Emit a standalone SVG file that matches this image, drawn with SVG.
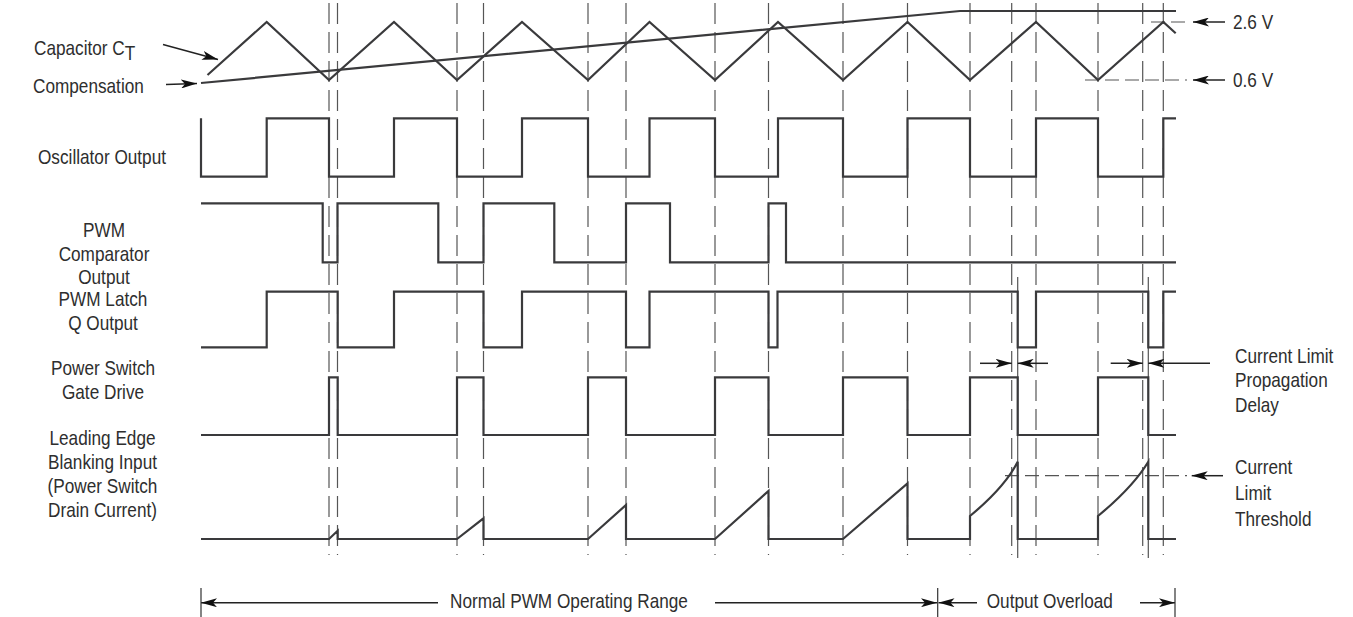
<svg xmlns="http://www.w3.org/2000/svg" width="1353" height="617" viewBox="0 0 1353 617">
<style>
.wave{fill:none;stroke:#3a3a3c;stroke-width:2.2;stroke-linejoin:miter;stroke-linecap:butt}
.dash{fill:none;stroke:#555;stroke-width:1.2;stroke-dasharray:21 8}
.hdash{fill:none;stroke:#555;stroke-width:1.2;stroke-dasharray:14 6}
.thin{fill:none;stroke:#555;stroke-width:1.2}
.arr{fill:none;stroke:#222;stroke-width:1.5;marker-end:url(#ah)}
.tick{fill:none;stroke:#333;stroke-width:1.2}
text{font-family:"Liberation Sans",Arial,sans-serif;font-size:20px;fill:#2e2e2e}
.c{text-anchor:middle}
</style>
<defs>
<marker id="ah" markerUnits="userSpaceOnUse" markerWidth="16" markerHeight="9" refX="16" refY="4.5" orient="auto">
<path d="M0,0 L16,4.5 L0,9 L4,4.5 z" fill="#111"/>
</marker>
</defs>
<rect width="1353" height="617" fill="#fff"/>

<g id="connectors">
<g id="gridlines">
<path class="dash" d="M329,3V555 M337.5,3V555 M457,3V555 M483.5,3V555 M588,3V555 M626,3V555 M715,3V555 M768.5,3V555 M843,3V555 M907.5,3V555 M970,3V555 M1011.7,3V555 M1036,3V555 M1098,3V555 M1142.7,3V555 M1163.3,3V555"/>
<path class="thin" d="M1017.7,277V558 M1148.3,277V558"/>
<path class="hdash" d="M1151,22H1187 M1085,80H1187 M1005,475.7H1187"/>
</g>
<g id="arrows">
<line class="arr" x1="163" y1="44.5" x2="218" y2="59.5"/>
<line class="arr" x1="166" y1="84.5" x2="197" y2="83.5"/>
<line class="arr" x1="1225" y1="22" x2="1193" y2="22"/>
<line class="arr" x1="1225" y1="80" x2="1193" y2="80"/>
<line class="arr" x1="1223" y1="475.7" x2="1191.7" y2="475.7"/>
<line class="arr" x1="980" y1="363.3" x2="1011.7" y2="363.3"/>
<line class="arr" x1="1048" y1="363.3" x2="1017.7" y2="363.3"/>
<line class="arr" x1="1110.7" y1="363.3" x2="1142.7" y2="363.3"/>
<line class="arr" x1="1210" y1="363.3" x2="1148.3" y2="363.3"/>
<line class="arr" x1="438" y1="602.7" x2="201" y2="602.7"/>
<line class="arr" x1="715" y1="602.7" x2="937" y2="602.7"/>
<line class="arr" x1="977" y1="602.7" x2="938.5" y2="602.7"/>
<line class="arr" x1="1140" y1="602.7" x2="1175" y2="602.7"/>
<path class="tick" d="M201,588V617 M937.7,588V617 M1175,588V617"/>
</g>
</g>

<g id="capacitor">
<polyline class="wave" points="207.5,75 266.7,22 329,80 394,22 457,80 522,22 588,80 649.5,22 715,80 778,22 843,80 907.5,22 970,80 1036,22 1098,80 1163.3,22 1175.7,33.3"/>
<text transform="translate(34,55) scale(0.86,1)">Capacitor C<tspan dy="5">T</tspan></text>
</g>
<g id="compensation">
<polyline class="wave" points="201,83 960,11 1176,11"/>
<text transform="translate(33,93) scale(0.86,1)">Compensation</text>
</g>
<g id="levels">
<text transform="translate(1233,29) scale(0.86,1)">2.6 V</text>
<text transform="translate(1233,87) scale(0.86,1)">0.6 V</text>
</g>

<g id="oscillator">
<path class="wave" d="M201,118.3V176.7H266.7V118.3H329V176.7H394V118.3H457V176.7H522V118.3H588V176.7H649.5V118.3H715V176.7H778V118.3H843V176.7H907.5V118.3H970V176.7H1036V118.3H1098V176.7H1163.3V118.3H1176"/>
<text class="c" transform="translate(102,164) scale(0.86,1)">Oscillator Output</text>
</g>

<g id="comparator">
<path class="wave" d="M201,203.3H322.7V262.3H337.5V203.3H438.3V262.3H483.5V203.3H554.3V262.3H626V203.3H670V262.3H768.5V203.3H786V262.3H1176"/>
<text class="c" transform="translate(104,237) scale(0.86,1)">PWM</text>
<text class="c" transform="translate(104,260.5) scale(0.86,1)">Comparator</text>
<text class="c" transform="translate(104,284) scale(0.86,1)">Output</text>
</g>

<g id="latch">
<path class="wave" d="M201,347.3H266.7V291.7H337.7V347.3H394V291.7H483.5V347.3H522V291.7H626V347.3H649.5V291.7H768.5V347.3H777.5V291.7H1017.7V347.3H1036V291.7H1148.3V347.3H1163.3V291.7H1176"/>
<text class="c" transform="translate(103,306) scale(0.86,1)">PWM Latch</text>
<text class="c" transform="translate(103,330) scale(0.86,1)">Q Output</text>
</g>

<g id="gate">
<path class="wave" d="M201,435H329V377.3H337.7V435H457V377.3H483.5V435H588V377.3H626V435H715V377.3H768.5V435H843V377.3H907.5V435H970V377.3H1017.7V435H1098V377.3H1148.3V435H1176"/>
<text class="c" transform="translate(103,375) scale(0.86,1)">Power Switch</text>
<text class="c" transform="translate(103,399) scale(0.86,1)">Gate Drive</text>
</g>

<g id="propagation">
<text transform="translate(1235,362.5) scale(0.86,1)">Current Limit</text>
<text transform="translate(1235,387) scale(0.86,1)">Propagation</text>
<text transform="translate(1235,411.5) scale(0.86,1)">Delay</text>
</g>

<g id="blanking">
<path class="wave" d="M201,539H329L337.7,530.7V539H457L483.5,518.3V539H588L626,505V539H715L768.5,491V539H843L907.5,483.3V539H970V516Q1005,487 1017.7,461.7V539H1098V516Q1133,487 1148.3,461.7V539H1176"/>
<text class="c" transform="translate(102.5,445) scale(0.86,1)">Leading Edge</text>
<text class="c" transform="translate(102.5,469) scale(0.86,1)">Blanking Input</text>
<text class="c" transform="translate(102.5,493) scale(0.86,1)">(Power Switch</text>
<text class="c" transform="translate(102.5,517) scale(0.86,1)">Drain Current)</text>
</g>

<g id="threshold">
<text transform="translate(1235,473.5) scale(0.86,1)">Current</text>
<text transform="translate(1235,499.5) scale(0.86,1)">Limit</text>
<text transform="translate(1235,525.5) scale(0.86,1)">Threshold</text>
</g>

<g id="ranges">
<text transform="translate(450,608) scale(0.86,1)">Normal PWM Operating Range</text>
<text transform="translate(986.7,608) scale(0.86,1)">Output Overload</text>
</g>
</svg>
